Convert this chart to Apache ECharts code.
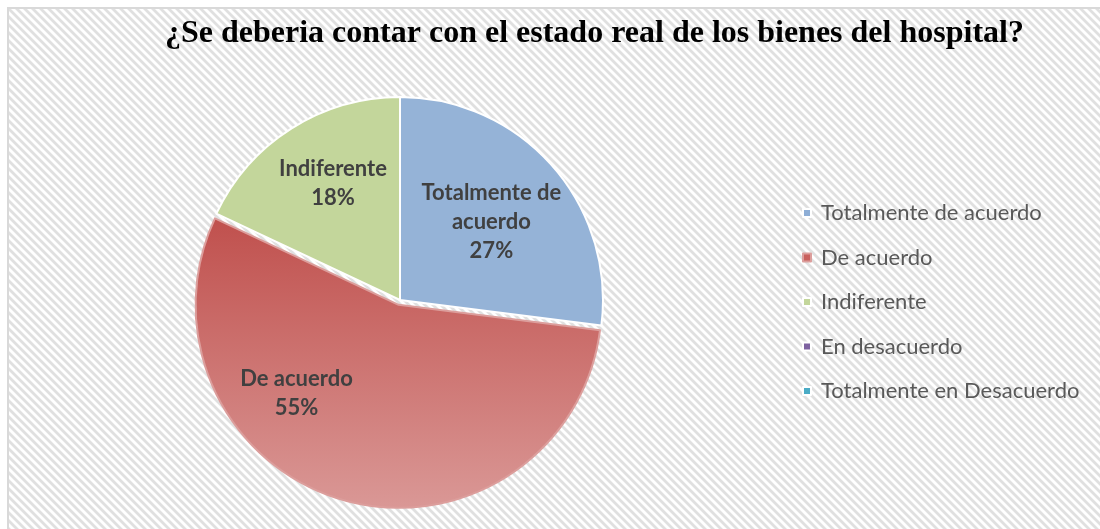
<!DOCTYPE html>
<html>
<head>
<meta charset="utf-8">
<script src="https://cdn.jsdelivr.net/npm/echarts@6/dist/echarts.min.js"></script>
<style>
html, body { margin: 0; padding: 0; background: #fff; }
#chart { width: 1100px; height: 529px; }
</style>
</head>
<body>
<div id="chart"></div>
<script>
// datos de la encuesta
const categories = ['Totalmente de acuerdo', 'De acuerdo', 'Indiferente', 'En desacuerdo', 'Totalmente en Desacuerdo'];
const percents = [27, 55, 18, 0, 0];
const sliceLabels = ['Totalmente de\nacuerdo', 'De acuerdo', 'Indiferente', 'En desacuerdo', 'Totalmente en Desacuerdo'];

const colors = ['#95b3d7', '#c0504d', '#c3d69b', '#8064a2', '#4bacc6'];
const legendColors = ['#8eaed6', '#c9605d', '#c3d69b', '#7d62a0', '#4bacc6'];
// label nudges relative to the 'inside' spot
const labelOffsets = [[13, -9], [-73, -12], [-11, -28], [0, 0], [0, 0]];

// diagonal hatch tile for the background
function hatchTile() {
  const n = 8;
  const c = document.createElement('canvas');
  c.width = n; c.height = n;
  const ctx = c.getContext('2d');
  const img = ctx.createImageData(n, n);
  for (let j = 0; j < n; j++) {
    for (let i = 0; i < n; i++) {
      let d = ((i - j) % n + n) % n;
      d = Math.min(d, n - d);
      const t = Math.max(0, Math.min(1, (d - 1) / 2));
      const v = Math.round(224 + (255 - 224) * t);
      const k = (j * n + i) * 4;
      img.data[k] = v; img.data[k + 1] = v; img.data[k + 2] = v; img.data[k + 3] = 255;
    }
  }
  ctx.putImageData(img, 0, 0);
  return c;
}

const chart = echarts.init(document.getElementById('chart'));

const pieData = categories.map((name, i) => {
  const item = {
    name: name,
    value: percents[i],
    itemStyle: { color: colors[i], borderColor: '#ffffff', borderWidth: 2 },
    label: { show: percents[i] > 0 }
  };
  if (i === 1) {
    item.selected = true;
    item.itemStyle = {
      color: new echarts.graphic.LinearGradient(0, 0, 0, 1, [
        { offset: 0, color: '#c0504d' },
        { offset: 1, color: '#da9896' }
      ]),
      borderColor: '#dc9e9c',
      borderWidth: 2
    };
  }
  return item;
});

const option = {
  backgroundColor: '#ffffff',
  graphic: [{
    type: 'rect',
    z: -10,
    silent: true,
    shape: { x: 8, y: 8, width: 1110, height: 540 },
    style: {
      fill: { image: hatchTile(), repeat: 'repeat' },
      stroke: '#d9d9d9',
      lineWidth: 2
    }
  }],
  title: {
    text: '¿Se deberia contar con el estado real de los bienes del hospital?',
    left: 165,
    top: 18,
    padding: 0,
    textStyle: {
      fontFamily: 'Liberation Serif',
      fontWeight: 'bold',
      fontSize: 32,
      color: '#000000'
    }
  },
  legend: {
    orient: 'vertical',
    left: 802,
    top: 202,
    padding: 0,
    itemWidth: 8,
    itemHeight: 8,
    itemGap: 22.5,
    icon: 'rect',
    selectedMode: false,
    data: categories.map((name, i) => ({
      name: name,
      itemStyle: { color: legendColors[i] }
    })),
    textStyle: {
      fontFamily: 'Lato',
      fontSize: 22,
      lineHeight: 22,
      color: '#595959',
      padding: [0, 0, 0, 5]
    }
  },
  series: [{
    type: 'pie',
    center: [400, 300],
    radius: 203,
    startAngle: 90,
    clockwise: true,
    selectedMode: 'single',
    selectedOffset: 5,
    animation: false,
    avoidLabelOverlap: false,
    emphasis: { disabled: true },
    label: {
      position: 'inside',
      fontFamily: 'Lato',
      fontWeight: 'bold',
      fontSize: 22,
      lineHeight: 29,
      color: '#404040',
      align: 'center',
      formatter: p => sliceLabels[p.dataIndex] + '\n' + p.percent + '%'
    },
    labelLayout: p => ({ dx: labelOffsets[p.dataIndex][0], dy: labelOffsets[p.dataIndex][1] }),
    labelLine: { show: false },
    data: pieData
  }]
};

chart.setOption(option);
</script>
</body>
</html>
